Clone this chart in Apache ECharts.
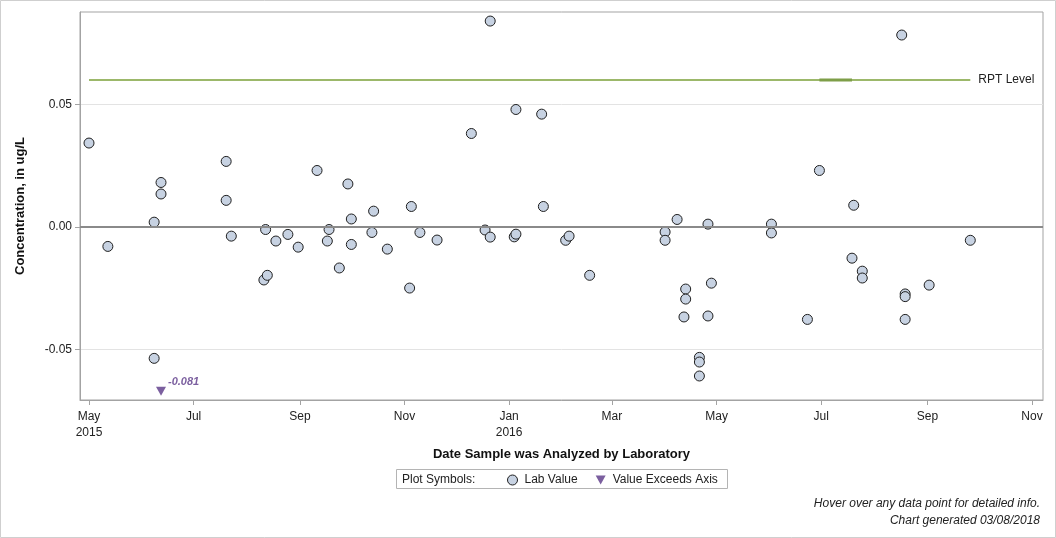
<!DOCTYPE html>
<html>
<head>
<meta charset="utf-8">
<script src="https://cdn.jsdelivr.net/npm/echarts@6/dist/echarts.min.js"></script>
<style>
  html, body { margin: 0; padding: 0; background: #fff; }
  #chart { width: 1056px; height: 538px; }
</style>
</head>
<body>
<div id="chart"></div>
<script>
// lab values (date analyzed, concentration ug/L)
const labDates = [
  '2015-05-01', '2015-05-12', '2015-06-08', '2015-06-08', '2015-06-12', '2015-06-12',
  '2015-07-20', '2015-07-20', '2015-07-23', '2015-08-11', '2015-08-12', '2015-08-13',
  '2015-08-18', '2015-08-25', '2015-08-31', '2015-09-11', '2015-09-17', '2015-09-18',
  '2015-09-24', '2015-09-29', '2015-10-01', '2015-10-01', '2015-10-13', '2015-10-14',
  '2015-10-22', '2015-11-04', '2015-11-05', '2015-11-10', '2015-11-20', '2015-12-10',
  '2015-12-18', '2015-12-21', '2015-12-21', '2016-01-04', '2016-01-05', '2016-01-05',
  '2016-01-20', '2016-01-21', '2016-02-03', '2016-02-05', '2016-02-17', '2016-04-01',
  '2016-04-01', '2016-04-08', '2016-04-12', '2016-04-13', '2016-04-13', '2016-04-21',
  '2016-04-21', '2016-04-21', '2016-04-26', '2016-04-26', '2016-04-28', '2016-06-02',
  '2016-06-02', '2016-06-23', '2016-06-30', '2016-07-19', '2016-07-20', '2016-07-25',
  '2016-07-25', '2016-08-17', '2016-08-19', '2016-08-19', '2016-08-19', '2016-09-02',
  '2016-09-26'
]
const labValues = [
  0.0343, -0.0079, 0.0020, -0.0536, 0.0182, 0.0135,
  0.0268, 0.0109, -0.0037, -0.0216, -0.0010, -0.0197,
  -0.0057, -0.0030, -0.0082, 0.0231, -0.0057, -0.0010,
  -0.0167, 0.0176, 0.0033, -0.0071, -0.0022, 0.0065,
  -0.0090, -0.0249, 0.0084, -0.0022, -0.0053, 0.0382,
  -0.0012, 0.0841, -0.0041, -0.0040, 0.0480, -0.0029,
  0.0461, 0.0084, -0.0054, -0.0037, -0.0197, -0.0020,
  -0.0054, 0.0031, -0.0367, -0.0253, -0.0294, -0.0532,
  -0.0551, -0.0608, 0.0012, -0.0363, -0.0229, 0.0012,
  -0.0024, -0.0377, 0.0231, -0.0127, 0.0089, -0.0180,
  -0.0208, 0.0784, -0.0273, -0.0284, -0.0377, -0.0237,
  -0.0054
]

// values below the axis range, drawn as a triangle at the bottom
const exceedDates = ['2015-06-12']
const exceedValues = [-0.081]
const exceedPlotAt = -0.067

// reporting level line
const rptLevel = 0.06
const rptDates = ['2015-05-01', '2016-09-26']
const rptHighlightDates = ['2016-06-30', '2016-07-19']

// axis settings
const yTicks = [-0.05, 0, 0.05]
const yMin = -0.0706
const yMax = 0.0878
const xTickDates = [
  '2015-05-01', '2015-07-01', '2015-09-01', '2015-11-01', '2016-01-01',
  '2016-03-01', '2016-05-01', '2016-07-01', '2016-09-01', '2016-11-01'
]
const monthNames = ['Jan', 'Feb', 'Mar', 'Apr', 'May', 'Jun', 'Jul', 'Aug', 'Sep', 'Oct', 'Nov', 'Dec']

const DAY = 86400000
const toTime = s => {
  const p = s.split('-').map(Number)
  return Date.UTC(p[0], p[1] - 1, p[2])
}
const xTicks = xTickDates.map(toTime)
const xMin = xTicks[0] - 5.25 * DAY
const xMax = xTicks[xTicks.length - 1] + 6.4 * DAY

const labData = labDates.map((d, i) => [toTime(d), labValues[i]])
const exceedData = exceedDates.map((d, i) => ({
  value: [toTime(d), exceedPlotAt],
  realValue: exceedValues[i]
}))

const triPath = 'path://M0,0L10,0L5,9Z'
const font = '"Liberation Sans", Arial, sans-serif'

const chart = echarts.init(document.getElementById('chart'))

const option = {
  animation: false,
  textStyle: { fontFamily: font },
  grid: {
    left: 80,
    top: 12,
    right: 13,
    bottom: 138,
    show: true,
    borderColor: '#a3a3a3',
    borderWidth: 1
  },
  graphic: [
    {
      type: 'rect',
      shape: { x: 0.5, y: 0.5, width: 1055, height: 537 },
      style: { fill: 'none', stroke: '#cfcfcf', lineWidth: 1 },
      silent: true
    },
    {
      type: 'rect',
      shape: { x: 396.5, y: 469.5, width: 331, height: 19 },
      style: { fill: 'none', stroke: '#b4b4b4', lineWidth: 1 },
      silent: true
    },
    {
      type: 'text',
      left: 402,
      top: 474,
      style: { text: 'Plot Symbols:', fontSize: 12, fill: '#222', fontFamily: font }
    },
    {
      type: 'text',
      right: 16,
      top: 498,
      style: {
        text: 'Hover over any data point for detailed info.',
        fontSize: 12, fontStyle: 'italic', fill: '#222', fontFamily: font
      }
    },
    {
      type: 'text',
      right: 16,
      top: 515,
      style: {
        text: 'Chart generated 03/08/2018',
        fontSize: 12, fontStyle: 'italic', fill: '#222', fontFamily: font
      }
    }
  ],
  legend: {
    left: 507,
    top: 474,
    padding: 0,
    itemWidth: 10,
    itemHeight: 10,
    itemGap: 18,
    itemStyle: { borderWidth: 1 },
    textStyle: { fontSize: 12, color: '#222', padding: [0, 0, 0, 2] },
    data: [
      { name: 'Lab Value', icon: 'circle' },
      { name: 'Value Exceeds Axis', icon: triPath }
    ]
  },
  xAxis: {
    type: 'value',
    min: xMin,
    max: xMax,
    name: 'Date Sample was Analyzed by Laboratory',
    nameLocation: 'middle',
    nameGap: 48,
    nameTextStyle: { fontSize: 13, fontWeight: 'bold', color: '#111' },
    axisLine: { show: true, onZero: false, lineStyle: { color: '#a3a3a3' } },
    axisTick: { show: true, inside: false, length: 5, customValues: xTicks, lineStyle: { color: '#a3a3a3' } },
    splitLine: { show: false },
    axisLabel: {
      customValues: xTicks,
      fontSize: 12,
      color: '#222',
      margin: 9,
      lineHeight: 16,
      formatter: v => {
        const d = new Date(v)
        const m = monthNames[d.getUTCMonth()]
        if (v === xTicks[0] || d.getUTCMonth() === 0) return m + '\n' + d.getUTCFullYear()
        return m
      }
    }
  },
  yAxis: {
    type: 'value',
    min: yMin,
    max: yMax,
    name: 'Concentration, in ug/L',
    nameLocation: 'middle',
    nameGap: 53,
    nameTextStyle: { fontSize: 13, fontWeight: 'bold', color: '#111' },
    axisLine: { show: true, onZero: false, lineStyle: { color: '#a3a3a3' } },
    axisTick: { show: true, inside: false, length: 5, customValues: yTicks, lineStyle: { color: '#a3a3a3' } },
    splitLine: { show: true, lineStyle: { color: '#e3e3e3', width: 1 } },
    axisLabel: {
      customValues: yTicks,
      fontSize: 12,
      color: '#222',
      margin: 8,
      formatter: v => v.toFixed(2)
    }
  },
  series: [
    {
      name: 'RPT Level',
      type: 'line',
      data: rptDates.map(d => [toTime(d), rptLevel]),
      symbol: 'none',
      silent: true,
      lineStyle: { color: '#9cb86a', width: 2 },
      endLabel: {
        show: true,
        formatter: 'RPT Level',
        color: '#222',
        fontSize: 12,
        distance: 8
      },
      z: 1
    },
    {
      name: 'RPT Highlight',
      type: 'line',
      data: rptHighlightDates.map(d => [toTime(d), rptLevel]),
      symbol: 'none',
      silent: true,
      lineStyle: { color: '#7e9e48', width: 3 },
      z: 1
    },
    {
      name: 'Lab Value',
      type: 'scatter',
      data: labData,
      symbol: 'circle',
      symbolSize: 10,
      itemStyle: { color: '#c7d2e2', borderColor: '#1e1e1e', borderWidth: 1, opacity: 1 },
      markLine: {
        silent: true,
        symbol: ['none', 'none'],
        label: { show: false },
        lineStyle: { color: '#8a8a8a', width: 2, type: 'solid' },
        data: [{ yAxis: 0 }]
      },
      z: 3
    },
    {
      name: 'Value Exceeds Axis',
      type: 'scatter',
      data: exceedData,
      symbol: triPath,
      symbolSize: [10, 9],
      itemStyle: { color: '#7b5f9f', opacity: 1 },
      label: {
        show: true,
        position: 'right',
        distance: 2,
        offset: [0, -9],
        formatter: p => p.data.realValue.toFixed(3),
        color: '#7b5f9f',
        fontSize: 11,
        fontWeight: 'bold',
        fontStyle: 'italic'
      },
      z: 3
    }
  ]
}

chart.setOption(option)
</script>
</body>
</html>
